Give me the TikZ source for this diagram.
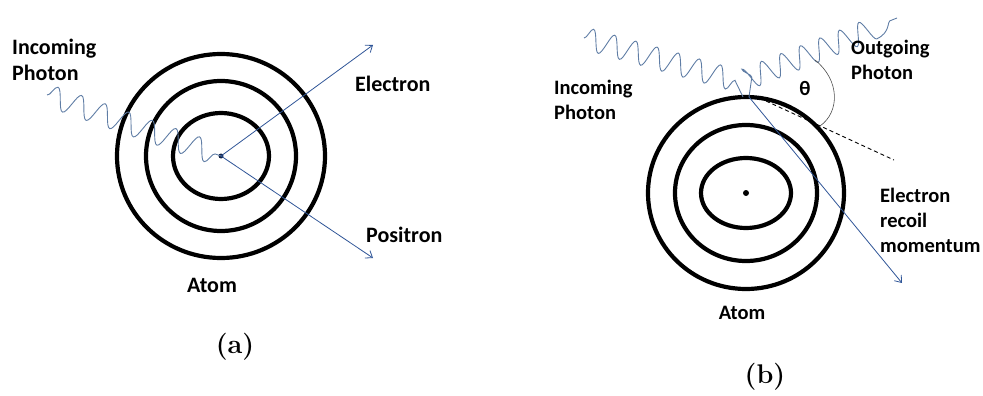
\documentclass[tikz,border=0pt]{standalone}
\usepackage{fontspec}
\newfontfamily\labfont{Carlito}
\usetikzlibrary{arrows.meta,decorations.pathmorphing}
\definecolor{arrowblue}{RGB}{47,85,151}
\definecolor{waveblue}{RGB}{95,125,165}
\definecolor{navydot}{RGB}{20,35,70}
\begin{document}
\begin{tikzpicture}[x=1pt,y=-1pt,
  ring/.style={line width=4.2pt},
  elec/.style={draw=arrowblue, line width=0.8pt, -{Straight Barb[length=6pt,width=9pt]}},
  photon/.style={draw=waveblue, line width=0.9pt, decorate,
     decoration={snake, segment length=23pt, amplitude=11pt}},
  lab/.style={font=\labfont\bfseries\fontsize{22}{26}\selectfont, inner sep=0pt, align=left},
  labb/.style={font=\labfont\bfseries\fontsize{20.5}{25}\selectfont, inner sep=0pt, align=left},
  sub/.style={font=\fontsize{27}{30}\selectfont, inner sep=0pt},
  nucleus/.style={circle, fill=#1, inner sep=0pt, minimum size=5pt}]
\useasboundingbox (0,0) rectangle (983,396);

% ---------- panel (a) ----------
\coordinate (cA) at (221,156);
\draw[ring] (cA) circle [x radius=104, y radius=102];
\draw[ring] (cA) circle [x radius=75, y radius=75];
\draw[ring] (cA) circle [x radius=48, y radius=43];
\node[nucleus=navydot] (nA) at (cA) {};
\coordinate (eA) at (373,45);
\coordinate (pA) at (373,258);
\coordinate (gA) at (47,95);
\draw[photon, decoration={segment length=25pt}] (gA) -- (nA.center);
\draw[elec] (nA.center) -- (eA);
\draw[elec] (nA.center) -- (pA);
\node[lab, anchor=west] (inA) at (12,60) {Incoming\\Photon};
\node[lab, anchor=west] (elA) at (355,84) {Electron};
\node[lab, anchor=west] (poA) at (366,235) {Positron};
\node[lab] (atA) at (212,285) {Atom};
\node[sub] (subA) at (235,347) {\textbf{(a)}};

% ---------- panel (b) ----------
\coordinate (cB) at (746,193);
\draw[ring] (cB) circle [x radius=98, y radius=96];
\draw[ring] (cB) circle [x radius=71, y radius=68];
\draw[ring] (cB) circle [x radius=45, y radius=35];
\node[nucleus=black, minimum size=6pt] (nB) at (cB) {};
\coordinate (iB) at (584,38);
\coordinate (iBk) at (741,82);
\coordinate (hitL) at (743,97);
\coordinate (hit) at (749,97);
\coordinate (oBk) at (752,76);
\coordinate (oB) at (897,18);
\coordinate (eB) at (902,283);
\coordinate (dS) at (766,101);
\coordinate (dE) at (894,160);
\coordinate (arcS) at (815,60);
\coordinate (arcE) at (820,126);
\draw[photon, decoration={post length=12pt, segment length=22pt}] (iB) -- (iBk) -- (hitL);
\draw[photon, decoration={pre length=20pt, segment length=21pt}] (hit) -- (oBk) -- (oB);
\draw[elec] (hit) -- (eB);
\draw[black, line width=0.9pt, dash pattern=on 4pt off 3pt] (dS) -- (dE);
\draw[black!70, line width=0.6pt] (arcS) .. controls (840,80) and (840,112) .. (arcE);
\node[labb] (th) at (805,88) {θ};
\node[labb, anchor=west] (inB) at (554,100) {Incoming\\Photon};
\node[labb, anchor=west] (ouB) at (851,60) {Outgoing\\Photon};
\node[labb, anchor=west] (elB) at (880,220) {Electron\\recoil\\momentum};
\node[labb] (atB) at (742,313) {Atom};
\node[sub] (subB) at (765,377) {\textbf{(b)}};
\end{tikzpicture}
\end{document}
